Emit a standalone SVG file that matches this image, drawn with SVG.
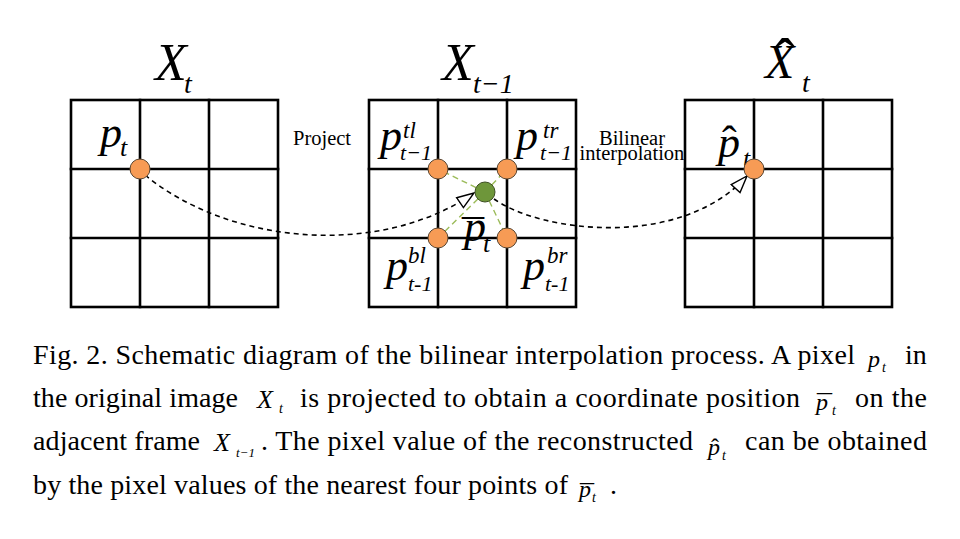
<svg xmlns="http://www.w3.org/2000/svg" width="960" height="539" viewBox="0 0 960 539">
<defs>
<style>
.grid{fill:none;stroke:#000;stroke-width:2.6;stroke-linecap:square}
.m{font-family:"Liberation Serif","Times New Roman",serif;font-style:italic;fill:#000}
.r{font-style:normal}
.cap{font-family:"Liberation Serif","Times New Roman",serif;font-size:28px;fill:#000}
.lbl{font-family:"Liberation Serif","Times New Roman",serif;font-size:20.5px;fill:#000}
.orange{fill:#F79B55;stroke:#5a4632;stroke-width:1}
.green{fill:#6E963A;stroke:#3d4f22;stroke-width:1}
.flow{fill:none;stroke:#000;stroke-width:1.6;stroke-dasharray:5 4}
.gd{fill:none;stroke:#9BBB59;stroke-width:1.4;stroke-dasharray:6 4}
</style>
<marker id="arr" markerUnits="userSpaceOnUse" viewBox="0 0 20 14" refX="18" refY="7" markerWidth="20" markerHeight="14" orient="auto">
<path d="M1,1 L18,7 L1,13 Z" fill="#fff" stroke="#000" stroke-width="1.4" stroke-dasharray="none"/>
</marker>
</defs>

<g id="frame-xt">
<rect class="grid" x="71" y="100" width="207" height="207"/>
<path class="grid" d="M140,100V307M209,100V307M71,169H278M71,238H278"/>
<text class="m"><tspan x="155" y="80" font-size="52">X</tspan><tspan x="184" y="93" font-size="28">t</tspan></text>
<text class="m"><tspan x="100" y="147" font-size="44">p</tspan><tspan x="120" y="156" font-size="26">t</tspan></text>
</g>

<g id="frame-xt1">
<rect class="grid" x="369" y="100" width="207" height="207"/>
<path class="grid" d="M438,100V307M507,100V307M369,169H576M369,238H576"/>
<text class="m"><tspan x="442" y="80" font-size="52">X</tspan><tspan x="473" y="93" font-size="28">t−1</tspan></text>
<text class="m"><tspan x="380" y="150" font-size="44">p</tspan><tspan x="403" y="138" font-size="23">tl</tspan><tspan x="400" y="160" font-size="22">t−1</tspan></text>
<text class="m"><tspan x="516" y="150" font-size="44">p</tspan><tspan x="543" y="138" font-size="23">tr</tspan><tspan x="540" y="160" font-size="22">t−1</tspan></text>
<text class="m"><tspan x="386" y="280" font-size="44">p</tspan><tspan x="408" y="263" font-size="23">bl</tspan><tspan x="408" y="291" font-size="22">t-1</tspan></text>
<text class="m"><tspan x="523" y="280" font-size="44">p</tspan><tspan x="547" y="263" font-size="23">br</tspan><tspan x="545" y="291" font-size="22">t-1</tspan></text>
<text class="m"><tspan class="r" x="462" y="251" font-size="44">¯</tspan><tspan x="464" y="241" font-size="44">p</tspan><tspan x="483" y="252" font-size="26">t</tspan></text>
</g>

<g id="frame-xhat">
<rect class="grid" x="685" y="100" width="207" height="207"/>
<path class="grid" d="M754,100V307M823,100V307M685,169H892M685,238H892"/>
<text class="m"><tspan class="r" x="775" y="79" font-size="60">ˆ</tspan><tspan x="765" y="78" font-size="48">X</tspan><tspan x="802" y="92" font-size="28">t</tspan></text>
<text class="m"><tspan class="r" x="722" y="156" font-size="44">ˆ</tspan><tspan x="718" y="157" font-size="44">p</tspan><tspan x="743" y="167" font-size="26">t</tspan></text>
</g>

<g id="connectors">
<line class="gd" x1="485" y1="192" x2="438" y2="169"/>
<line class="gd" x1="485" y1="192" x2="507" y2="169"/>
<line class="gd" x1="485" y1="192" x2="438" y2="238"/>
<line class="gd" x1="485" y1="192" x2="507" y2="238"/>
<path class="flow" d="M145,175 C230,245 380,258 474,193" marker-end="url(#arr)"/>
<path class="flow" d="M494,199 C540,232 680,250 747,176" marker-end="url(#arr)"/>
<text class="lbl" x="293" y="145">Project</text>
<text class="lbl" text-anchor="middle"><tspan x="632" y="145">Bilinear</tspan><tspan x="632" y="160">interpolation</tspan></text>
</g>

<g id="points">
<circle class="orange" cx="140" cy="169" r="10"/>
<circle class="orange" cx="438" cy="169" r="10"/>
<circle class="orange" cx="507" cy="169" r="10"/>
<circle class="orange" cx="438" cy="238" r="10"/>
<circle class="orange" cx="507" cy="238" r="10"/>
<circle class="green" cx="485" cy="192" r="10"/>
<circle class="orange" cx="754" cy="169" r="10"/>
</g>

<g id="caption">
<text class="cap" x="33" y="364" textLength="822" lengthAdjust="spacing">Fig. 2. Schematic diagram of the bilinear interpolation process. A pixel</text>
<text class="m"><tspan x="868" y="367" font-size="24">p</tspan><tspan x="882" y="372" font-size="14">t</tspan></text>
<text class="cap" x="905" y="364">in</text>

<text class="cap" x="33" y="407" textLength="205" lengthAdjust="spacing">the original image</text>
<text class="m"><tspan x="257" y="408" font-size="26">X</tspan><tspan x="279" y="413" font-size="14">t</tspan></text>
<text class="cap" x="300" y="407" textLength="500" lengthAdjust="spacing">is projected to obtain a coordinate position</text>
<text class="m"><tspan class="r" x="817" y="415" font-size="30">¯</tspan><tspan x="816" y="410" font-size="24">p</tspan><tspan x="832" y="415" font-size="14">t</tspan></text>
<text class="cap" x="855" y="407" textLength="72" lengthAdjust="spacing">on the</text>

<text class="cap" x="33" y="450" textLength="167" lengthAdjust="spacing">adjacent frame</text>
<text class="m"><tspan x="214" y="451" font-size="26">X</tspan><tspan x="236" y="457" font-size="13">t−1</tspan></text>
<text class="cap" x="261" y="450" textLength="432" lengthAdjust="spacing">. The pixel value of the reconstructed</text>
<text class="m"><tspan class="r" x="711" y="455" font-size="24">ˆ</tspan><tspan x="708" y="455" font-size="24">p</tspan><tspan x="722" y="460" font-size="14">t</tspan></text>
<text class="cap" x="745" y="450" textLength="182" lengthAdjust="spacing">can be obtained</text>

<text class="cap" x="33" y="494" textLength="535" lengthAdjust="spacing">by the pixel values of the nearest four points of</text>
<text class="m"><tspan class="r" x="580" y="504" font-size="28">¯</tspan><tspan x="579" y="497" font-size="24">p</tspan><tspan x="592" y="502" font-size="14">t</tspan></text>
<text class="cap" x="610" y="494">.</text>
</g>
</svg>
